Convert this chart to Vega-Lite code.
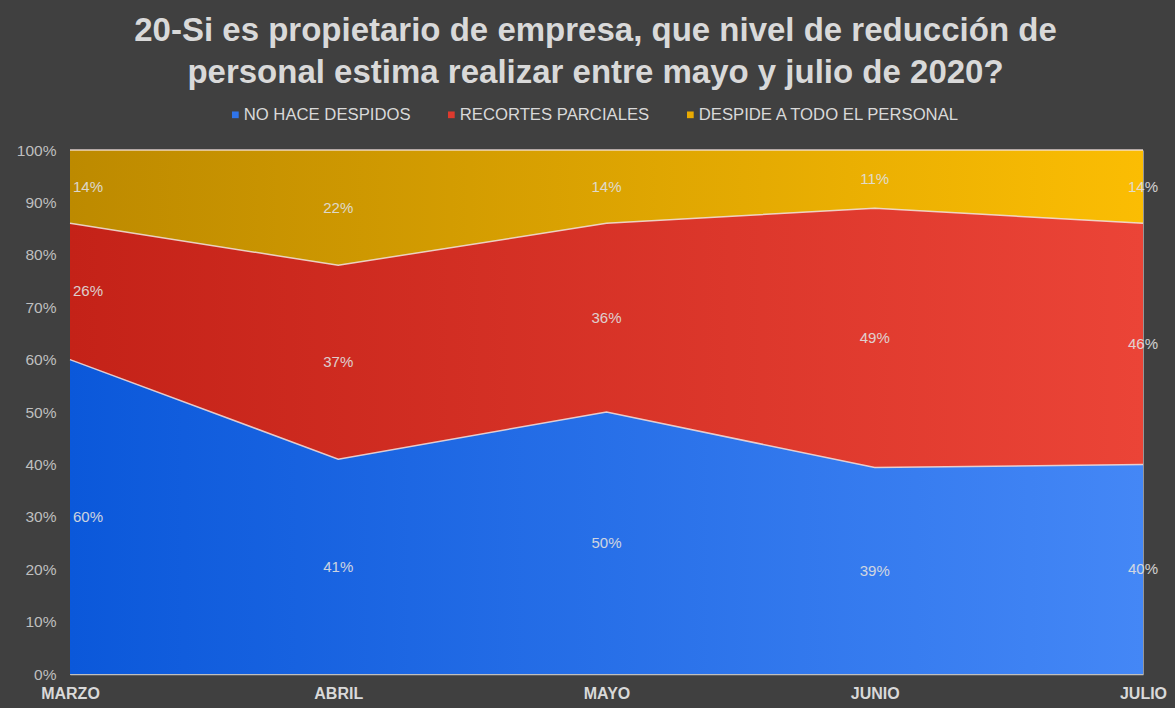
{
  "$schema": "https://vega.github.io/schema/vega-lite/v6.json",
  "width": 1073,
  "height": 524,
  "autosize": {"type": "none"},
  "padding": {"left": 70, "top": 150, "right": 32, "bottom": 34},
  "background": "#404040",
  "title": {
    "text": ["20-Si es propietario de empresa, que nivel de reducción de", "personal estima realizar entre mayo y julio de 2020?"],
    "font": "Liberation Sans",
    "fontSize": 33,
    "fontWeight": "bold",
    "color": "#D9D9D9",
    "lineHeight": 42,
    "anchor": "middle",
    "frame": "group",
    "dx": -11,
    "offset": 16
  },
  "data": {
    "values": [
      {"mes": "MARZO", "serie": "NO HACE DESPIDOS", "orden": 1, "valor": 60},
      {"mes": "MARZO", "serie": "RECORTES PARCIALES", "orden": 2, "valor": 26},
      {"mes": "MARZO", "serie": "DESPIDE A TODO EL PERSONAL", "orden": 3, "valor": 14},
      {"mes": "ABRIL", "serie": "NO HACE DESPIDOS", "orden": 1, "valor": 41},
      {"mes": "ABRIL", "serie": "RECORTES PARCIALES", "orden": 2, "valor": 37},
      {"mes": "ABRIL", "serie": "DESPIDE A TODO EL PERSONAL", "orden": 3, "valor": 22},
      {"mes": "MAYO", "serie": "NO HACE DESPIDOS", "orden": 1, "valor": 50},
      {"mes": "MAYO", "serie": "RECORTES PARCIALES", "orden": 2, "valor": 36},
      {"mes": "MAYO", "serie": "DESPIDE A TODO EL PERSONAL", "orden": 3, "valor": 14},
      {"mes": "JUNIO", "serie": "NO HACE DESPIDOS", "orden": 1, "valor": 39},
      {"mes": "JUNIO", "serie": "RECORTES PARCIALES", "orden": 2, "valor": 49},
      {"mes": "JUNIO", "serie": "DESPIDE A TODO EL PERSONAL", "orden": 3, "valor": 11},
      {"mes": "JULIO", "serie": "NO HACE DESPIDOS", "orden": 1, "valor": 40},
      {"mes": "JULIO", "serie": "RECORTES PARCIALES", "orden": 2, "valor": 46},
      {"mes": "JULIO", "serie": "DESPIDE A TODO EL PERSONAL", "orden": 3, "valor": 14}
    ]
  },
  "transform": [
    {"stack": "valor", "groupby": ["mes"], "sort": [{"field": "orden", "order": "ascending"}], "offset": "normalize", "as": ["y0", "y1"]},
    {"calculate": "(datum.y0 + datum.y1) / 2", "as": "ym"},
    {"calculate": "datum.valor + '%'", "as": "texto"}
  ],
  "encoding": {
    "x": {
      "field": "mes",
      "type": "ordinal",
      "sort": ["MARZO", "ABRIL", "MAYO", "JUNIO", "JULIO"],
      "scale": {"type": "point", "padding": 0},
      "axis": {"title": null, "labelAngle": 0}
    }
  },
  "layer": [
    {
      "transform": [{"filter": "datum.orden == 1"}],
      "mark": {
        "type": "area",
        "color": {"gradient": "linear", "x1": 0, "x2": 1, "y1": 0, "y2": 0,
          "stops": [{"offset": 0, "color": "#0B58DA"}, {"offset": 1, "color": "#4487F6"}]}
      },
      "encoding": {
        "y": {"field": "y1", "type": "quantitative", "scale": {"domain": [0, 1]}, "axis": {"title": null, "values": [0, 0.1, 0.2, 0.3, 0.4, 0.5, 0.6, 0.7, 0.8, 0.9, 1], "format": ".0%"}},
        "y2": {"field": "y0"}
      }
    },
    {
      "transform": [{"filter": "datum.orden == 2"}],
      "mark": {
        "type": "area",
        "color": {"gradient": "linear", "x1": 0, "x2": 1, "y1": 0, "y2": 0,
          "stops": [{"offset": 0, "color": "#C42218"}, {"offset": 1, "color": "#EB4437"}]}
      },
      "encoding": {
        "y": {"field": "y1", "type": "quantitative", "scale": {"domain": [0, 1]}, "axis": {"title": null, "values": [0, 0.1, 0.2, 0.3, 0.4, 0.5, 0.6, 0.7, 0.8, 0.9, 1], "format": ".0%"}},
        "y2": {"field": "y0"}
      }
    },
    {
      "transform": [{"filter": "datum.orden == 3"}],
      "mark": {
        "type": "area",
        "color": {"gradient": "linear", "x1": 0, "x2": 1, "y1": 0, "y2": 0,
          "stops": [{"offset": 0, "color": "#BD8A00"}, {"offset": 1, "color": "#FBBD03"}]}
      },
      "encoding": {
        "y": {"field": "y1", "type": "quantitative", "scale": {"domain": [0, 1]}, "axis": {"title": null, "values": [0, 0.1, 0.2, 0.3, 0.4, 0.5, 0.6, 0.7, 0.8, 0.9, 1], "format": ".0%"}},
        "y2": {"field": "y0"}
      }
    },
    {
      "mark": {"type": "line", "color": "#F4E4E0", "strokeWidth": 1.5, "opacity": 0.85},
      "encoding": {
        "y": {"field": "y1", "type": "quantitative", "scale": {"domain": [0, 1]}, "axis": {"title": null, "values": [0, 0.1, 0.2, 0.3, 0.4, 0.5, 0.6, 0.7, 0.8, 0.9, 1], "format": ".0%"}},
        "detail": {"field": "serie"}
      }
    },
    {
      "mark": {"type": "point", "opacity": 0, "filled": true},
      "encoding": {
        "y": {"field": "y1", "type": "quantitative", "scale": {"domain": [0, 1]}, "axis": {"title": null, "values": [0, 0.1, 0.2, 0.3, 0.4, 0.5, 0.6, 0.7, 0.8, 0.9, 1], "format": ".0%"}},
        "color": {
          "field": "serie",
          "type": "nominal",
          "scale": {"domain": ["NO HACE DESPIDOS", "RECORTES PARCIALES", "DESPIDE A TODO EL PERSONAL"], "range": ["#2F74EA", "#DE3A2E", "#E9AA02"]},
          "legend": {
            "title": null,
            "orient": "none",
            "direction": "horizontal",
            "legendX": 157,
            "legendY": -44,
            "symbolType": "square",
            "symbolSize": 45,
            "symbolOpacity": 1,
            "symbolStrokeWidth": 0,
            "labelFont": "Liberation Sans",
            "labelFontSize": 16.7,
            "labelLimit": 0,
            "labelColor": "#D9D9D9",
            "labelOffset": 0,
            "columnPadding": 32
          }
        }
      }
    },
    {
      "transform": [{"filter": "datum.mes == 'MARZO'"}],
      "mark": {"type": "text", "align": "left", "dx": 3, "font": "Liberation Sans", "fontSize": 15, "color": "#E0E0E0", "opacity": 0.9},
      "encoding": {
        "y": {"field": "ym", "type": "quantitative", "scale": {"domain": [0, 1]}, "axis": {"title": null, "values": [0, 0.1, 0.2, 0.3, 0.4, 0.5, 0.6, 0.7, 0.8, 0.9, 1], "format": ".0%"}},
        "text": {"field": "texto"}
      }
    },
    {
      "transform": [{"filter": "datum.mes != 'MARZO'"}],
      "mark": {"type": "text", "align": "center", "font": "Liberation Sans", "fontSize": 15, "color": "#E0E0E0", "opacity": 0.9},
      "encoding": {
        "y": {"field": "ym", "type": "quantitative", "scale": {"domain": [0, 1]}, "axis": {"title": null, "values": [0, 0.1, 0.2, 0.3, 0.4, 0.5, 0.6, 0.7, 0.8, 0.9, 1], "format": ".0%"}},
        "text": {"field": "texto"}
      }
    }
  ],
  "config": {
    "view": {"stroke": null},
    "axisX": {
      "grid": true,
      "gridColor": "#FFFFFF",
      "gridOpacity": 0.45,
      "gridWidth": 1,
      "zindex": 1,
      "ticks": false,
      "domainColor": "#BFBFBF",
      "domainWidth": 1.5,
      "labelFont": "Liberation Sans",
      "labelFontSize": 16,
      "labelFontWeight": "bold",
      "labelColor": "#D9D9D9",
      "labelPadding": 11
    },
    "axisY": {
      "grid": false,
      "ticks": false,
      "domainColor": "#D9D9D9",
      "domainWidth": 1,
      "labelFont": "Liberation Sans",
      "labelFontSize": 15.5,
      "labelColor": "#BFBFBF",
      "labelPadding": 14
    }
  }
}
